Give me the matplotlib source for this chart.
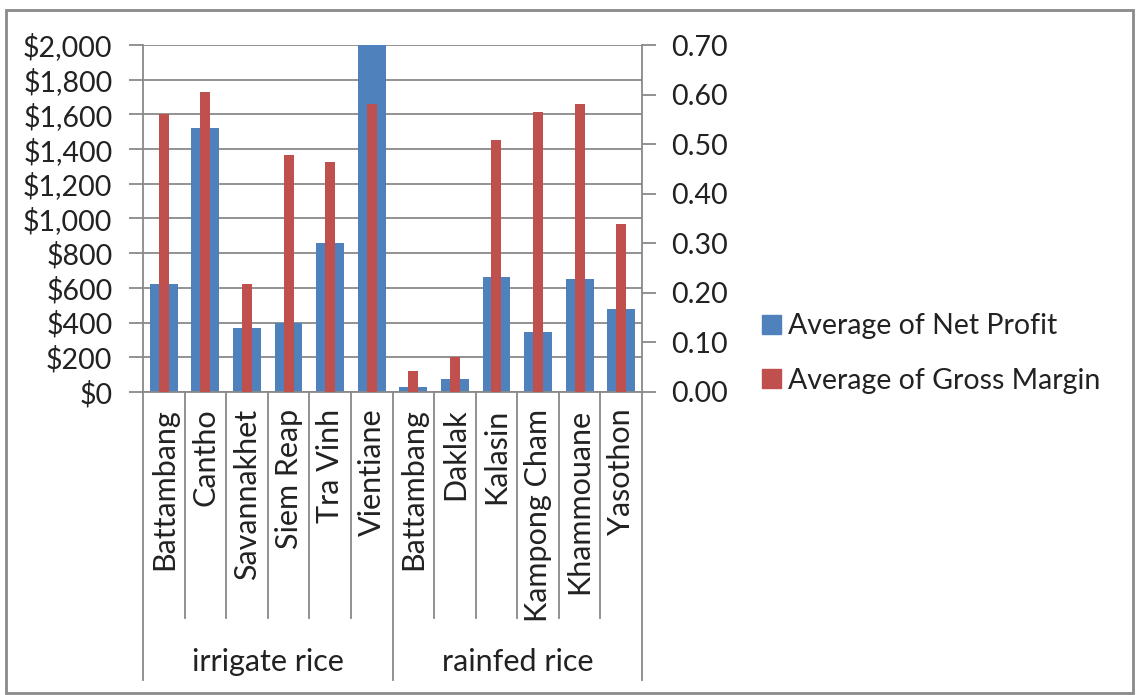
"""Net profit vs gross margin by province, irrigated and rainfed rice."""
import matplotlib

matplotlib.use("Agg")
import matplotlib.pyplot as plt  # noqa: E402
import numpy as np  # noqa: E402
from matplotlib.patches import Patch, Rectangle  # noqa: E402
from matplotlib.ticker import FuncFormatter  # noqa: E402

GROUPS = ["irrigate rice", "rainfed rice"]
GROUP_SIZES = [6, 6]
PROVINCES = [
    "Battambang", "Cantho", "Savannakhet", "Siem Reap", "Tra Vinh", "Vientiane",
    "Battambang", "Daklak", "Kalasin", "Kampong Cham", "Khammouane", "Yasothon",
]
NET_PROFIT = [620, 1520, 370, 400, 860, 2000, 30, 75, 660, 345, 650, 480]
GROSS_MARGIN = [0.560, 0.605, 0.218, 0.479, 0.464, 0.581,
                0.042, 0.070, 0.509, 0.565, 0.581, 0.338]
LEFT_TICKS = np.arange(0, 2001, 200)
RIGHT_TICKS = np.arange(0, 0.701, 0.1)

BLUE = "#4F81BD"
RED = "#C0504D"
GRID = "#898989"
TXT = "#222222"
FS = 20.5
FS_CAT = 22
W, H = 1144, 695

plt.rcParams["font.family"] = ["Lato", "DejaVu Sans"]

fig = plt.figure(figsize=(W / 100, H / 100), dpi=100)
left, right, top, bottom = 143, 642, 45, 392
ax = fig.add_axes([left / W, 1 - bottom / H, (right - left) / W, (bottom - top) / H])

x = np.arange(len(PROVINCES))
ax.bar(x, NET_PROFIT, width=0.67, color=BLUE, zorder=2)
ax.set_xlim(-0.5, len(PROVINCES) - 0.5)
ax.set_ylim(0, 2000)
ax.set_yticks(LEFT_TICKS)
ax.yaxis.set_major_formatter(FuncFormatter(lambda v, _: f"${v:,.0f}"))
ax.yaxis.grid(True, color=GRID, lw=1.3)
ax.set_axisbelow(True)
for side in ("top", "right"):
    ax.spines[side].set_visible(False)
for side in ("left", "bottom"):
    ax.spines[side].set_color(GRID)
    ax.spines[side].set_linewidth(1.3)
ax.tick_params(axis="y", length=10, width=1.3, color=GRID, pad=12,
               labelsize=FS, labelcolor=TXT)
ax.set_xticks(x)
ax.set_xticklabels(PROVINCES, rotation=90, va="top", ha="center")
ax.tick_params(axis="x", length=0, pad=12, labelsize=FS_CAT, labelcolor=TXT)

ax2 = ax.twinx()
ax2.bar(x, GROSS_MARGIN, width=0.24, color=RED, zorder=3)
ax2.set_ylim(0, 0.7)
ax2.set_yticks(RIGHT_TICKS)
ax2.yaxis.set_major_formatter(FuncFormatter(lambda v, _: f"{v:.2f}"))
for side in ("top", "left", "bottom"):
    ax2.spines[side].set_visible(False)
ax2.spines["right"].set_color(GRID)
ax2.spines["right"].set_linewidth(1.3)
ax2.tick_params(axis="y", length=10, width=1.3, color=GRID, pad=11,
                labelsize=FS, labelcolor=TXT)

# two-level category axis: separators and group names below the tick labels
trans = ax.get_xaxis_transform()
inner_end = (bottom - 618) / (bottom - top)
outer_end = (bottom - 680) / (bottom - top)
edges = np.concatenate([[0], np.cumsum(GROUP_SIZES)]) - 0.5
for b in np.arange(-0.5, len(PROVINCES), 1.0):
    y_end = outer_end if np.any(np.isclose(edges, b)) else inner_end
    ax.plot([b, b], [0, y_end], color=GRID, lw=1.3, transform=trans, clip_on=False)
for name, lo, hi in zip(GROUPS, edges[:-1], edges[1:]):
    ax.text((lo + hi) / 2, (bottom - 662) / (bottom - top), name, transform=trans,
            ha="center", va="center", fontsize=FS_CAT, color=TXT)

handles = [Patch(color=BLUE), Patch(color=RED)]
fig.legend(handles, ["Average of Net Profit", "Average of Gross Margin"],
           loc="center left", bbox_to_anchor=(762 / W, 1 - 353.5 / H),
           frameon=False, borderpad=0, borderaxespad=0, handlelength=0.65,
           handleheight=0.65, handletextpad=0.25, labelspacing=1.0,
           fontsize=FS, labelcolor=TXT)

fig.patches.append(Rectangle((6 / W, 2 / H), 1127 / W, 683 / H, transform=fig.transFigure,
                             fill=False, edgecolor="#8a8a8a", lw=2))

fig.savefig("out.png", dpi=100)
plt.close(fig)
